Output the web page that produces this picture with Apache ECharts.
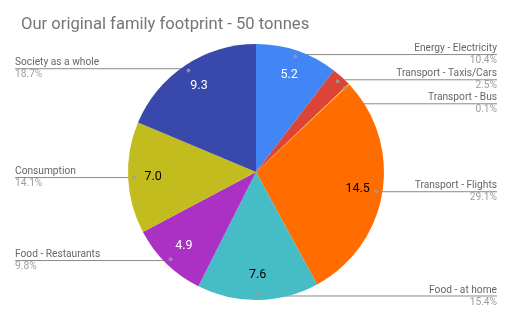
<!DOCTYPE html>
<html><head><meta charset="utf-8">
<script src="https://cdn.jsdelivr.net/npm/echarts@6/dist/echarts.min.js"></script>
<style>html,body{margin:0;padding:0;background:#fff}#c{width:512px;height:317px}</style>
</head><body><div id="c"></div>
<script>
var categories = ['Energy - Electricity','Transport - Taxis/Cars','Transport - Bus','Transport - Flights','Food - at home','Food - Restaurants','Consumption','Society as a whole'];
var values = [5.18, 1.24, 0.05, 14.47, 7.64, 4.88, 7.01, 9.29];
var colors = ['#4285F4','#DB4437','#F4B400','#FF6D00','#46BDC6','#AB30C4','#C3BC1E','#3949AB'];
var insideTextColors = ['#fff','#fff','#fff','#000','#000','#fff','#000','#fff'];
var titleText = 'Our original family footprint - 50 tonnes';

var total = values.reduce(function(a,b){return a+b;},0);
var F = 'Roboto, "Noto Sans", sans-serif';
var R = 128, CX = 256, CY = 172;
var mids = [], acc = 0;
values.forEach(function(v){ mids.push(acc + v/2); acc += v; });

var chart = echarts.init(document.getElementById('c'), null, {renderer:'canvas'});
chart.setOption({
  animation:false,
  title:{text:titleText,left:16,top:11,textStyle:{fontFamily:F,fontSize:16.6,fontWeight:'normal',color:'#757575'}},
  polar:{center:[CX,CY],radius:R},
  angleAxis:{type:'value',min:0,max:total,startAngle:90,clockwise:true,show:false},
  radiusAxis:{type:'value',min:0,max:R,show:false},
  series:[
    {type:'pie',center:[CX,CY],radius:[0,R],startAngle:90,clockwise:true,silent:true,
     label:{show:false},labelLine:{show:false},emphasis:{disabled:true},
     data:categories.map(function(n,i){return {name:n,value:values[i],itemStyle:{color:colors[i]}};})},
    {type:'pie',center:[CX,CY],radius:[72,R],startAngle:90,clockwise:true,silent:true,
     itemStyle:{color:'transparent'},emphasis:{disabled:true},labelLine:{show:false},
     data:categories.map(function(n,i){return {name:n,value:values[i],
       label:{show:values[i]/total>0.05,position:'inside',fontFamily:F,fontSize:12.5,color:insideTextColors[i],
         formatter:function(p){return p.value.toFixed(1);}}};})},
    {type:'pie',center:[CX,CY],radius:[0,122],startAngle:90,clockwise:true,silent:true,
     itemStyle:{color:'transparent'},emphasis:{disabled:true},
     label:{show:true,position:'outside',alignTo:'edge',edgeDistance:15,
       formatter:function(p){return '{n|'+p.name+'}\n{p|'+(p.value/total*100).toFixed(1)+'%}';},
       rich:{n:{fontFamily:F,fontSize:10.2,color:'#666666',lineHeight:12},p:{fontFamily:F,fontSize:10.2,color:'#9e9e9e',lineHeight:12}}},
     labelLine:{show:true,length:2,length2:5,smooth:false,lineStyle:{color:'#8a8a8a',width:1}},
     labelLayout:function(p){
       var pts=p.labelLinePoints; if(!pts) return {};
       var r=p.labelRect; var left=(r.x+r.width/2)<CX;
       var np=pts.map(function(q){return [q[0],q[1]];});
       var last=np[np.length-1];
       np[np.length-1]=[left?r.x:r.x+r.width,last[1]];
       return {labelLinePoints:np};
     },
     data:categories.map(function(n,i){return {name:n,value:values[i]};})},
    {type:'scatter',coordinateSystem:'polar',symbolSize:4,silent:true,itemStyle:{color:'#9e9e9e'},
     data:mids.map(function(m){return [122,m];})}
  ]
});
</script></body></html>
